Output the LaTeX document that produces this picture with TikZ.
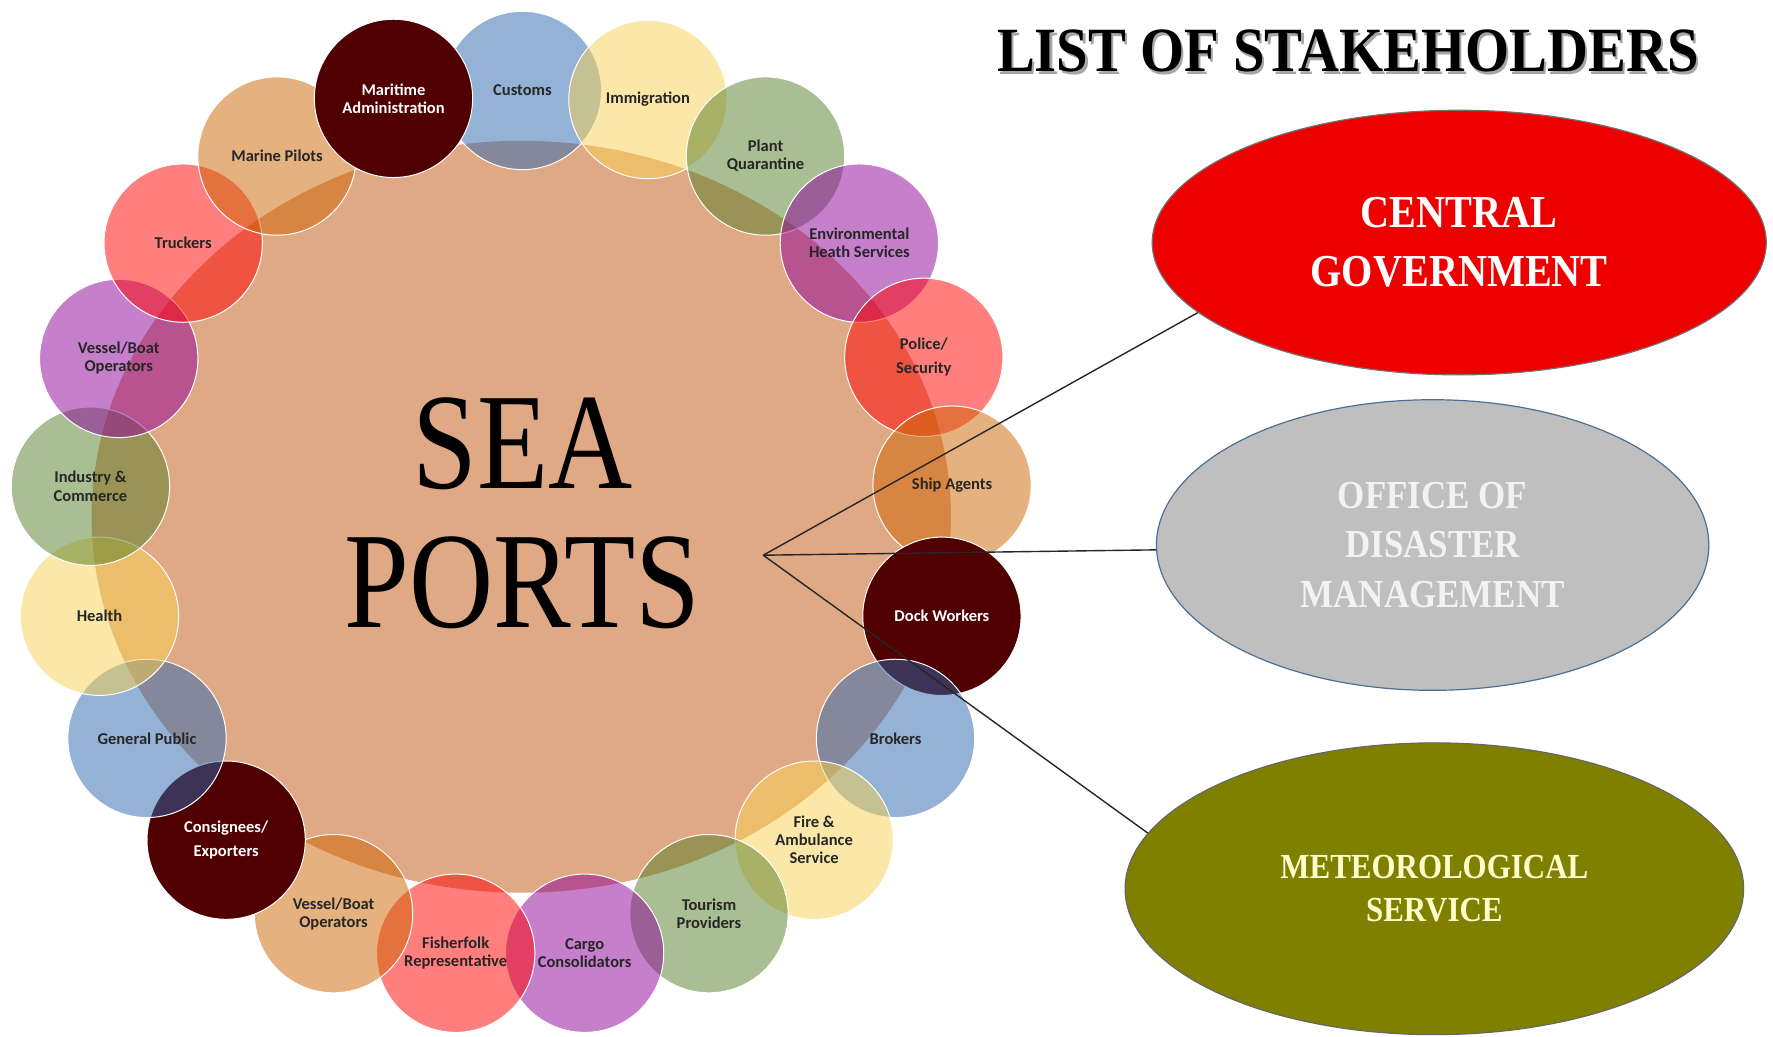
\documentclass[tikz,border=0pt]{standalone}
\usepackage{fontspec}
\setmainfont{Liberation Serif}
\newfontfamily\stakefont{Carlito}
\newfontfamily\portfont{Liberation Serif}[FakeStretch=0.85]
\newfontfamily\agencyfont{Liberation Serif}[FakeStretch=0.88]
\newfontfamily\titlefont{Liberation Serif}[FakeStretch=0.9]
\usetikzlibrary{shapes.geometric}
\definecolor{portsand}{RGB}{224, 169, 133}
\definecolor{stblue}{RGB}{43, 103, 175}
\definecolor{styellow}{RGB}{249, 209, 81}
\definecolor{stgreen}{RGB}{85, 127, 41}
\definecolor{stpurple}{RGB}{143, 0, 153}
\definecolor{stred}{RGB}{255, 0, 0}
\definecolor{sttan}{RGB}{205, 101, 0}
\definecolor{stmaroon}{RGB}{80, 0, 0}
\definecolor{govred}{RGB}{238, 0, 0}
\definecolor{odmgray}{RGB}{191, 191, 191}
\definecolor{odmline}{RGB}{79, 110, 150}
\definecolor{metolive}{RGB}{128, 128, 0}
\definecolor{metcream}{RGB}{255, 255, 204}

\begin{document}
\begin{tikzpicture}[
    x=0.2mm, y=-0.2mm,
    stake/.style={
        circle, minimum size=2.8cm, inner sep=0pt,
        align=center, text=black!85,
        font=\stakefont\bfseries\fontsize{8.3}{9.1}\selectfont,
        fill opacity=0.5, text opacity=1,
        draw=white, line width=0.5pt
    },
    darkstake/.style={
        stake, fill=stmaroon, fill opacity=1, text=white
    },
    agency/.style={
        ellipse, inner sep=0pt, align=center,
        line width=0.6pt
    },
    link/.style={
        draw=black!85, line width=0.7pt
    }
]

\useasboundingbox (0,0) rectangle (1568,917);
\fill[white] (0,0) rectangle (1568,917);

% Port hub
\node[ellipse, fill=portsand, minimum width=15.2cm, minimum height=13.3cm, inner sep=0pt] (port) at (461,457) {};
\node[font=\portfont\fontsize{69}{70}\selectfont, align=center] (porttext) at (462,454) {SEA\\PORTS};

% Stakeholder ring, clockwise from the top
\node[stake, fill=stblue] (customs) at (462,80) {Customs};
\node[stake, fill=styellow] (immigration) at (573,88) {Immigration};
\node[stake, fill=stgreen] (plant) at (677,138) {Plant\\Quarantine};
\node[stake, fill=stpurple] (envhealth) at (760,215) {Environmental\\Heath Services};
\node[stake, fill=stred] (police) at (817,316) {Police/\\[3pt]Security};
\node[stake, fill=sttan] (shipagents) at (842,429) {Ship Agents};
\node[darkstake] (dock) at (833,545) {Dock Workers};
\node[stake, fill=stblue] (brokers) at (792,653) {Brokers};
\node[stake, fill=styellow] (fire) at (720,743) {Fire \&\\Ambulance\\Service};
\node[stake, fill=stgreen] (tourism) at (627,808) {Tourism\\Providers};
\node[stake, fill=stpurple] (cargo) at (517,843) {Cargo\\Consolidators};
\node[stake, fill=stred] (fisherfolk) at (403,843) {Fisherfolk\\Representative};
\node[stake, fill=sttan] (vesselsouth) at (295,808) {Vessel/Boat\\Operators};
\node[darkstake] (consignees) at (200,743) {Consignees/\\[3pt]Exporters};
\node[stake, fill=stblue] (public) at (130,653) {General Public};
\node[stake, fill=styellow] (health) at (88,545) {Health};
\node[stake, fill=stgreen] (industry) at (80,430) {Industry \&\\Commerce};
\node[stake, fill=stpurple] (vesselwest) at (105,317) {Vessel/Boat\\Operators};
\node[stake, fill=stred] (truckers) at (162,215) {Truckers};
\node[stake, fill=sttan] (pilots) at (245,138) {Marine Pilots};
\node[darkstake] (maritime) at (348,87) {Maritime\\Administration};

% Heading
\node[font=\titlefont\bfseries\fontsize{31.7}{36}\selectfont, text=black!35, anchor=base] (titleshade) at (1194,65.5) {LIST OF STAKEHOLDERS};
\node[font=\titlefont\bfseries\fontsize{31.7}{36}\selectfont, anchor=base] (title) at (1192,63.4) {LIST OF STAKEHOLDERS};

% Agencies
\node[agency, fill=govred, draw=black!55, text=white,
      minimum width=10.86cm, minimum height=4.68cm,
      font=\agencyfont\bfseries\fontsize{23}{29.6}\selectfont] (cg) at (1290.5,214.5) {CENTRAL\\GOVERNMENT};
\node[agency, fill=odmgray, draw=odmline, text=white!95!black,
      minimum width=9.77cm, minimum height=5.14cm,
      font=\agencyfont\bfseries\fontsize{20}{24.7}\selectfont] (odm) at (1267,482) {OFFICE OF\\DISASTER\\MANAGEMENT};
\node[agency, fill=metolive, draw=black!60, text=metcream,
      minimum width=10.94cm, minimum height=5.16cm,
      font=\agencyfont\bfseries\fontsize{17.7}{21.6}\selectfont] (ms) at (1268.5,786) {METEOROLOGICAL\\SERVICE};

% Links from the port
\coordinate (hub) at (675,491);
\draw[link] (hub) -- (cg.195);
\draw[link] (hub) -- (odm.181);
\draw[link] (hub) -- (ms.169);

\end{tikzpicture}
\end{document}
